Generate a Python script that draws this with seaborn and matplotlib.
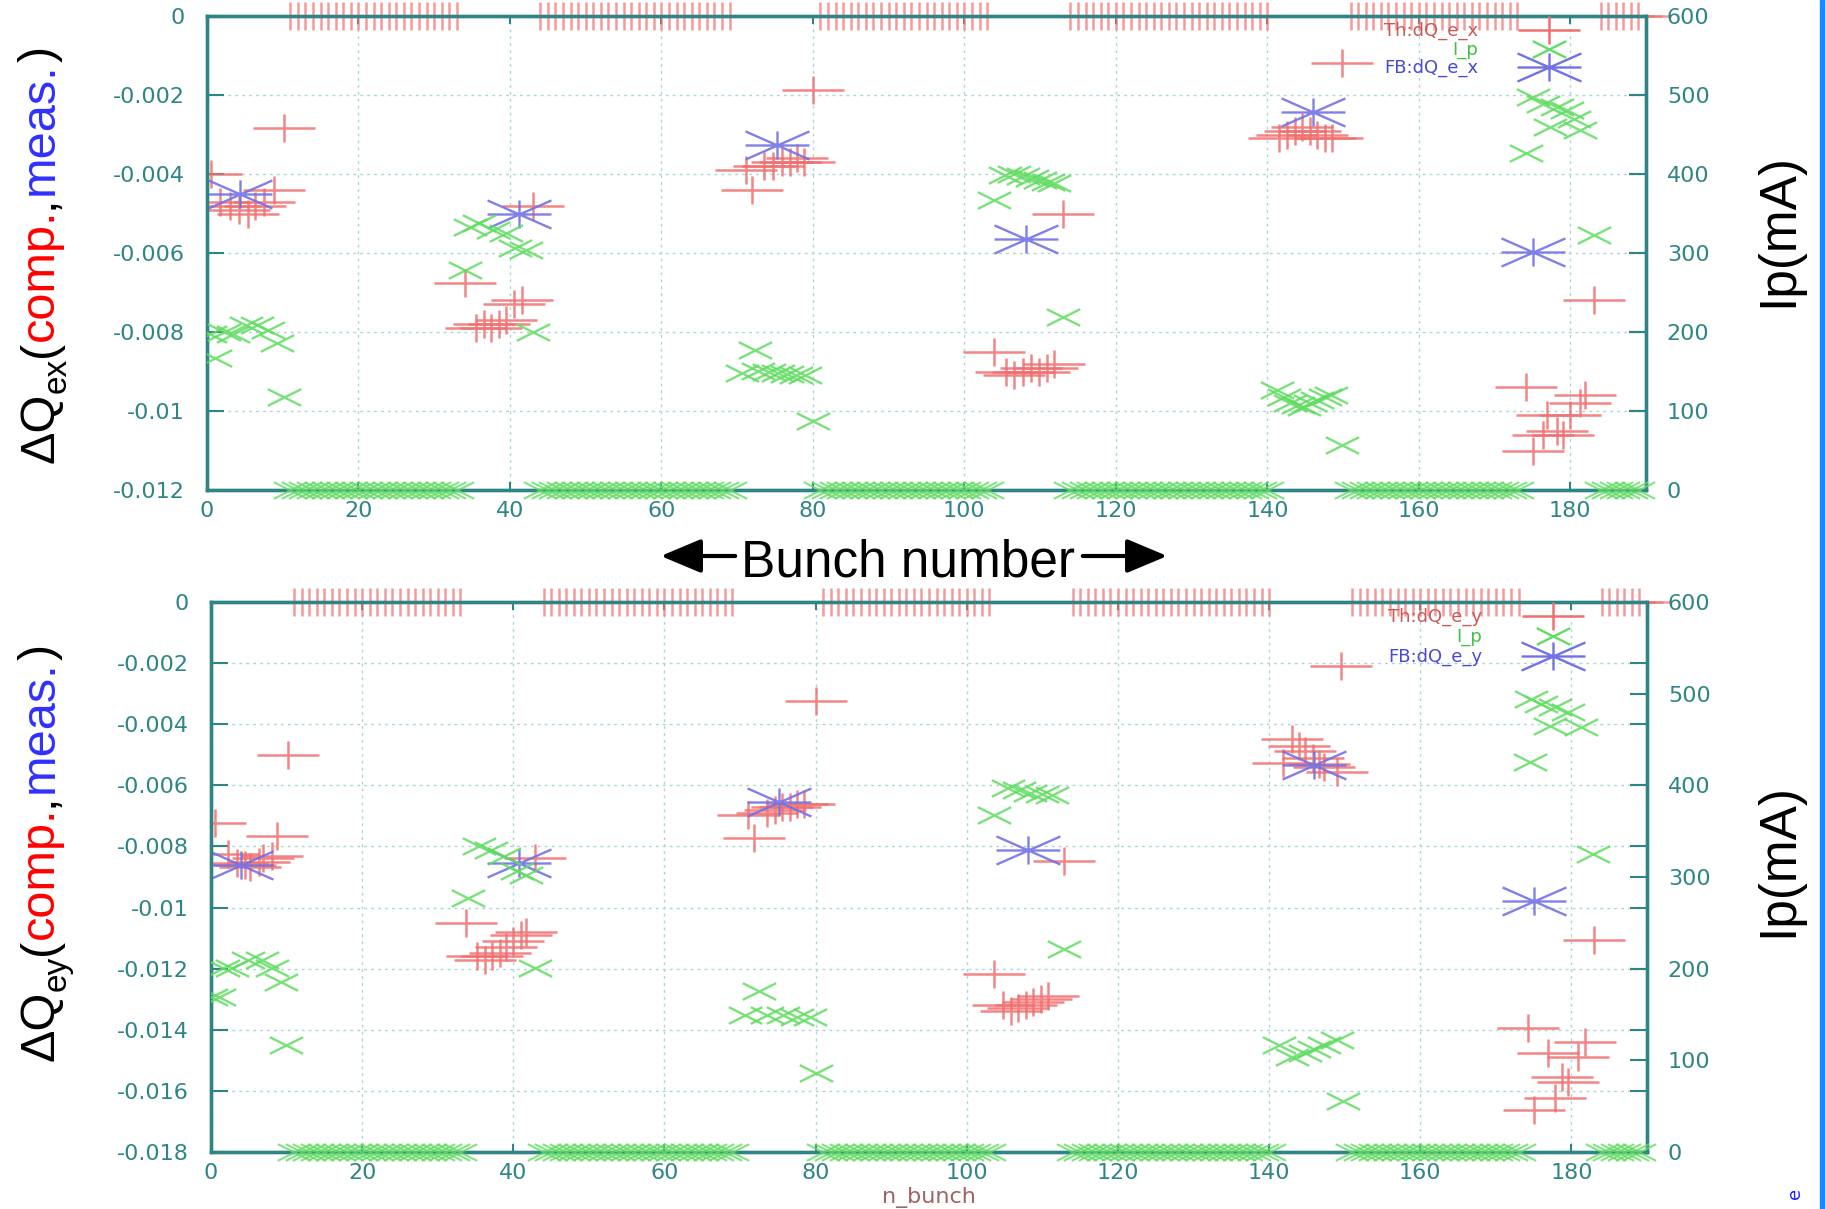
import numpy as np
import pandas as pd
import matplotlib
matplotlib.use("Agg")
import matplotlib.pyplot as plt
import seaborn as sns
from matplotlib.path import Path
from matplotlib.lines import Line2D
from matplotlib.patches import FancyArrowPatch, Rectangle
from matplotlib.ticker import FixedLocator, FuncFormatter

# ---------------------------------------------------------------- data
x_ticks = [0, 20, 40, 60, 80, 100, 120, 140, 160, 180]
y_ticks_top = [0, -0.002, -0.004, -0.006, -0.008, -0.01, -0.012]
y_ticks_bot = [0, -0.002, -0.004, -0.006, -0.008, -0.01, -0.012, -0.014, -0.016, -0.018]
ip_ticks = [0, 100, 200, 300, 400, 500, 600]

# empty bunches (Th = 0, I_p = 0): ranges of bunch numbers
empty_ranges = [(11, 33), (44, 69), (81, 103), (114, 140), (151, 173), (184, 189)]

# --- top panel (x)
th_x_bunch = [0.5, 1.7, 3.0, 4.2, 5.4, 6.3, 7.5, 8.8, 10.2,
              34.1, 35.5, 36.6, 37.5, 38.5, 39.5, 40.5, 41.6, 43.0,
              71.2, 72.0, 73.5, 74.7, 75.9, 77.0, 77.9, 78.8, 80.0,
              103.9, 105.5, 106.6, 107.7, 108.8, 109.9, 110.9, 111.8, 113.0,
              141.5, 142.6, 143.6, 144.6, 145.6, 146.6, 147.6, 148.6, 149.8,
              174.2, 175.1, 176.4, 176.9, 178.2, 179.1, 180.0, 181.3, 182.0, 183.1]
th_x_dq = [-0.0040, -0.0047, -0.0048, -0.0049, -0.0050, -0.0048, -0.0047, -0.0044, -0.00284,
           -0.00677, -0.0079, -0.0078, -0.0079, -0.0078, -0.0077, -0.0073, -0.0072, -0.0048,
           -0.0039, -0.0044, -0.0038, -0.0038, -0.0037, -0.0037, -0.0036, -0.0037, -0.00187,
           -0.0085, -0.0090, -0.0091, -0.0090, -0.0089, -0.0090, -0.0089, -0.0088, -0.0050,
           -0.0031, -0.0030, -0.0029, -0.0028, -0.0029, -0.0030, -0.0031, -0.0031, -0.0012,
           -0.0094, -0.0110, -0.0106, -0.0101, -0.0105, -0.0106, -0.0101, -0.0098, -0.0096, -0.0072]
ip_x_bunch = [0.4, 1.0, 2.2, 3.4, 5.1, 6.6, 8.1, 9.3, 10.2,
              34.1, 34.7, 35.9, 37.7, 39.5, 40.7, 42.1, 43.0,
              70.6, 72.3, 72.8, 74.2, 75.4, 76.6, 77.8, 78.9, 80.0,
              103.9, 105.3, 106.5, 107.7, 108.9, 110.0, 111.0, 111.8, 113.0,
              141.3, 142.2, 143.0, 144.0, 144.8, 145.7, 146.6, 147.6, 148.4, 149.8,
              174.2, 175.1, 176.4, 177.3, 178.2, 179.6, 180.5, 181.3, 183.1]
ip_x_ma = [198, 167, 200, 198, 209, 209, 203, 186, 118,
           278, 333, 338, 329, 325, 306, 304, 200,
           148, 177, 151, 149, 148, 147, 146, 146, 87,
           367, 399, 400, 397, 395, 392, 390, 388, 219,
           127, 118, 110, 107, 105, 110, 114, 118, 120, 57,
           426, 498, 489, 460, 485, 481, 470, 456, 323]
fb_x_bunch = [4.3, 41.2, 75.2, 108.2, 146.0, 175.1]
fb_x_dq = [-0.0045, -0.0050, -0.00327, -0.00565, -0.00242, -0.00597]

# --- bottom panel (y)
th_y_bunch = [0.5, 2.2, 3.4, 4.5, 5.2, 6.3, 6.9, 8.1, 8.7, 10.2,
              33.7, 35.2, 36.2, 37.2, 38.2, 39.0, 40.0, 41.0, 41.7, 42.9,
              71.0, 71.9, 73.6, 74.6, 75.6, 76.6, 77.6, 78.5, 80.0,
              103.6, 104.8, 105.8, 106.8, 107.8, 108.8, 109.8, 110.8, 112.8,
              141.9, 143.0, 144.0, 144.8, 145.8, 146.6, 147.2, 149.0, 149.5,
              174.2, 175.1, 176.9, 177.8, 178.7, 179.6, 180.9, 181.8, 183.0]
th_y_dq = [-0.00724, -0.00825, -0.00853, -0.0086, -0.00866, -0.0085, -0.00839, -0.00832, -0.00765, -0.00501,
           -0.01049, -0.0116, -0.0117, -0.0116, -0.0115, -0.0113, -0.0111, -0.0109, -0.0108, -0.00839,
           -0.00697, -0.00771, -0.0069, -0.0068, -0.0067, -0.0067, -0.0066, -0.0066, -0.00325,
           -0.01218, -0.0132, -0.0134, -0.0133, -0.0132, -0.0131, -0.0130, -0.0129, -0.00846,
           -0.00528, -0.00447, -0.0047, -0.00487, -0.0051, -0.0053, -0.00541, -0.00555, -0.0021,
           -0.01394, -0.01664, -0.01475, -0.01624, -0.01556, -0.0157, -0.01489, -0.01441, -0.01107]
ip_y_bunch = [0.0, 1.1, 1.6, 2.8, 4.9, 6.7, 8.1, 9.3, 9.9,
              34.0, 35.5, 37.0, 38.8, 40.5, 41.7, 42.9,
              70.7, 72.5, 73.6, 75.7, 77.5, 79.2, 80.0,
              103.6, 105.4, 106.9, 108.4, 109.9, 111.3, 112.8,
              141.3, 143.0, 144.8, 146.0, 147.2, 149.0, 149.8,
              174.5, 174.7, 176.0, 177.1, 177.8, 179.6, 181.3, 182.9]
ip_y_ma = [169, 169, 201, 201, 210, 210, 201, 185, 117,
           277, 334, 329, 323, 307, 302, 201,
           149, 176, 149, 149, 147, 147, 86,
           368, 397, 395, 392, 391, 390, 221,
           117, 104, 108, 112, 117, 122, 56,
           426, 494, 489, 465, 485, 480, 464, 325]
fb_y_bunch = [4.0, 40.8, 75.1, 108.1, 145.9, 175.1]
fb_y_dq = [-0.0086, -0.00853, -0.00656, -0.00812, -0.00534, -0.00977]

# ---------------------------------------------------------------- style
sns.set_theme(style="white")
plt.rcParams["font.family"] = ["DejaVu Sans"]
plt.rcParams["axes.unicode_minus"] = False

W, H = 1825, 1209
fig = plt.figure(figsize=(W / 100, H / 100), dpi=100, facecolor="white")


def fx(px):
    return px / W


def fy(py):
    return 1 - py / H


TEAL = "#2f8585"
GRID = "#a9d6d6"
RED = "#f07070"
GREEN = "#62dc62"
BLUE = "#7272e6"
TICKFS = 16
LEGFS = 13


def seg_marker(segs):
    verts, codes = [], []
    for a, b in segs:
        verts += [a, b]
        codes += [Path.MOVETO, Path.LINETO]
    return Path(verts, codes)


PLUS = seg_marker([((-1, 0), (1, 0)), ((0, -0.46), (0, 0.46))])
CROSS = seg_marker([((-1, -0.5), (1, 0.5)), ((-1, 0.5), (1, -0.5))])
STAR = seg_marker([((-1, 0), (1, 0)), ((0, -0.44), (0, 0.44)),
                   ((-1, -0.44), (1, 0.44)), ((-1, 0.44), (1, -0.44))])
PLUS_PT, CROSS_PT, STAR_PT = 44.0, 24.0, 46.0

empty_bunches = [b for lo, hi in empty_ranges for b in range(lo, hi + 1)]


def panel(rect, ylo, yticks, th_b, th_v, ip_b, ip_v, fb_b, fb_v, suffix, leg_anchor, leg_space):
    ax = fig.add_axes(rect)
    ax2 = ax.twinx()
    ax.set_xlim(0, 190)
    ax.set_ylim(ylo, 0)
    ax2.set_ylim(0, 600)

    df_th = pd.DataFrame({"bunch": th_b, "dq": th_v})
    df_ip = pd.DataFrame({"bunch": ip_b, "ip": ip_v})
    df_fb = pd.DataFrame({"bunch": fb_b, "dq": fb_v})
    df_e = pd.DataFrame({"bunch": empty_bunches, "dq": [0.0] * len(empty_bunches),
                         "ip": [0.0] * len(empty_bunches)})

    sns.scatterplot(data=df_e, x="bunch", y="dq", ax=ax, marker=PLUS, s=PLUS_PT ** 2,
                    color=RED, edgecolor=RED, linewidth=1.8, alpha=0.7, clip_on=False,
                    zorder=3, legend=False)
    sns.scatterplot(data=df_th, x="bunch", y="dq", ax=ax, marker=PLUS, s=PLUS_PT ** 2,
                    color=RED, edgecolor=RED, linewidth=1.8, alpha=0.85, zorder=3, legend=False)
    sns.scatterplot(data=df_fb, x="bunch", y="dq", ax=ax, marker=STAR, s=STAR_PT ** 2,
                    color=BLUE, edgecolor=BLUE, linewidth=1.7, alpha=0.9, zorder=4, legend=False)
    sns.scatterplot(data=df_e, x="bunch", y="ip", ax=ax2, marker=CROSS, s=CROSS_PT ** 2,
                    color=GREEN, edgecolor=GREEN, linewidth=1.5, alpha=0.8, clip_on=False,
                    zorder=3, legend=False)
    sns.scatterplot(data=df_ip, x="bunch", y="ip", ax=ax2, marker=CROSS, s=CROSS_PT ** 2,
                    color=GREEN, edgecolor=GREEN, linewidth=1.7, alpha=0.85, zorder=3, legend=False)

    ax.set_xlabel("")
    ax.set_ylabel("")
    ax2.set_ylabel("")
    ax.xaxis.set_major_locator(FixedLocator(x_ticks))
    ax.yaxis.set_major_locator(FixedLocator(yticks))
    ax2.yaxis.set_major_locator(FixedLocator(ip_ticks))
    ax.yaxis.set_major_formatter(FuncFormatter(lambda v, p: "%g" % round(v, 6)))
    ax.grid(True, color=GRID, linestyle=(0, (2, 3)), linewidth=1.0)
    ax2.grid(False)
    ax.set_axisbelow(True)

    ax.tick_params(axis="y", direction="in", length=12, width=1.5, color=TEAL,
                   labelcolor=TEAL, labelsize=TICKFS, pad=16, right=True, left=True)
    ax.tick_params(axis="x", direction="in", length=6, width=1.5, color=TEAL,
                   labelcolor=TEAL, labelsize=TICKFS, pad=8, top=True, bottom=True)
    ax2.tick_params(axis="y", direction="in", length=12, width=1.5, color=TEAL,
                    labelcolor=TEAL, labelsize=TICKFS, pad=15)
    for a in (ax, ax2):
        for sp in a.spines.values():
            sp.set_color(TEAL)
            sp.set_linewidth(2.4)

    handles = [Line2D([], [], linestyle="none", marker=PLUS, markersize=PLUS_PT,
                      markeredgecolor=RED, markeredgewidth=1.8),
               Line2D([], [], linestyle="none", marker=CROSS, markersize=CROSS_PT,
                      markeredgecolor=GREEN, markeredgewidth=1.7),
               Line2D([], [], linestyle="none", marker=STAR, markersize=STAR_PT,
                      markeredgecolor=BLUE, markeredgewidth=1.7)]
    labels = ["Th:dQ_e_" + suffix, "I_p", "FB:dQ_e_" + suffix]
    fig.legend(handles, labels, loc="upper right", bbox_to_anchor=leg_anchor,
               bbox_transform=fig.transFigure, frameon=False, markerfirst=False,
               fontsize=LEGFS, handlelength=3.5, handletextpad=2.2, borderpad=0,
               borderaxespad=0, labelspacing=leg_space, handleheight=0.4,
               labelcolor=["#c85a5a", "#44c044", "#4a4ad0"])
    return ax, ax2


ax_top, ax_top2 = panel([fx(207), fy(490), (1646 - 207) / W, (490 - 16) / H], -0.012,
                        y_ticks_top, th_x_bunch, th_x_dq, ip_x_bunch, ip_x_ma,
                        fb_x_bunch, fb_x_dq, "x", (fx(1581), fy(22)), 0.0)
ax_bot, ax_bot2 = panel([fx(211), fy(1152), (1647 - 211) / W, (1152 - 602) / H], -0.018,
                        y_ticks_bot, th_y_bunch, th_y_dq, ip_y_bunch, ip_y_ma,
                        fb_y_bunch, fb_y_dq, "y", (fx(1585), fy(608)), 0.08)

# ---------------------------------------------------------------- big labels
renderer = fig.canvas.get_renderer()
BIG = ["Liberation Sans", "DejaVu Sans"]


def vlabel(pieces, x_px, y_px):
    y = y_px
    for txt, col, fs, shift in pieces:
        t = fig.text(fx(x_px + shift), fy(y), txt, color=col, fontsize=fs, rotation=90,
                     rotation_mode="anchor", ha="left", va="baseline", family=BIG)
        bb = t.get_window_extent(renderer)
        y -= bb.height


def dq_label(sub):
    return [("ΔQ", "black", 35, 0), (sub, "black", 24, 13), ("(", "black", 35, 0),
            ("comp.", "#ff0000", 35, 0), (",", "black", 35, 0), ("meas.", "#3030ff", 35, 0),
            (")", "black", 35, 0)]


vlabel(dq_label("ex"), 53, 463)
vlabel(dq_label("ey"), 53, 1061)
vlabel([("Ip(mA)", "black", 37, 0)], 1792, 307)
vlabel([("Ip(mA)", "black", 37, 0)], 1792, 937)

fig.text(fx(908), fy(577), "Bunch number", ha="center", va="baseline", fontsize=37,
         family=BIG, color="black")
for start, end in [(738, 658), (1080, 1170)]:
    fig.add_artist(FancyArrowPatch((fx(start), fy(556)), (fx(end), fy(556)),
                                   transform=fig.transFigure,
                                   arrowstyle="-|>,head_length=1.0,head_width=0.42",
                                   mutation_scale=25, lw=3, color="black"))

fig.text(fx(929), fy(1197), "n_bunch", ha="center", va="center", fontsize=16,
         color="#a06262")

fig.add_artist(Rectangle((fx(1820), 0), 5 / W, 1, transform=fig.transFigure,
                         color="#1a88ff", zorder=10))
fig.text(fx(1795), fy(1193), "e", ha="center", va="center", fontsize=13,
         color="#2020ff", rotation=90)

fig.savefig("out.png", dpi=100, facecolor="white")
